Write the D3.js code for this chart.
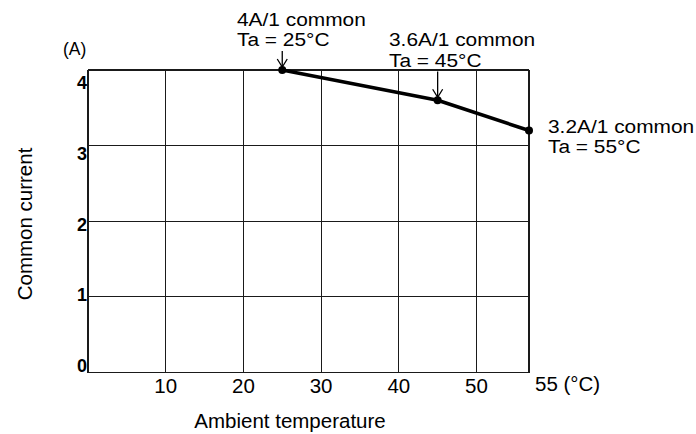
<!DOCTYPE html>
<html>
<head>
<meta charset="utf-8">
<script src="https://cdn.jsdelivr.net/npm/d3@7"></script>
<style>
  html, body { margin: 0; padding: 0; background: #fff; }
  svg { display: block; font-family: "Liberation Sans", Arial, sans-serif; }
</style>
</head>
<body>
<svg id="chart" width="696" height="434"></svg>
<script>
// ---- data ----
const temps = [25, 45, 55];            // ambient temperature (°C)
const currents = [4.0, 3.6, 3.2];      // common current (A)
const annotLine1 = ["4A/1 common", "3.6A/1 common", "3.2A/1 common"];
const annotLine2 = ["Ta = 25°C", "Ta = 45°C", "Ta = 55°C"];
const xTicks = [10, 20, 30, 40, 50];
const xTickLabels = ["10", "20", "30", "40", "50"];
const xEndLabel = "55 (°C)";
const yTicks = [0, 1, 2, 3, 4];
const yTickLabels = ["0", "1", "2", "3", "4"];
const xTitle = "Ambient temperature";
const yTitle = "Common current";
const yUnit = "(A)";

// ---- scales ----
const svg = d3.select("#chart");
const x = d3.scaleLinear().domain([0, 50, 55]).range([88, 476.5, 529]);
const y = d3.scaleLinear().domain([0, 4]).range([372.5, 70]);
const yLab = d3.scaleLinear().domain([0, 4]).range([372, 89]);

const gridColor = "#1a1a1a";

// grid: horizontal lines
svg.append("g").selectAll("line").data(yTicks).join("line")
  .attr("x1", x(0)).attr("x2", x(55))
  .attr("y1", d => y(d)).attr("y2", d => y(d))
  .attr("stroke", gridColor).attr("stroke-width", 1.2)
  .attr("shape-rendering", "crispEdges");

// grid: vertical lines
svg.append("g").selectAll("line").data([0, ...xTicks, 55]).join("line")
  .attr("x1", d => x(d)).attr("x2", d => x(d))
  .attr("y1", y(4)).attr("y2", y(0))
  .attr("stroke", gridColor).attr("stroke-width", 1.2)
  .attr("shape-rendering", "crispEdges");

// y tick labels
svg.append("g").selectAll("text").data(yTicks).join("text")
  .attr("x", 87).attr("y", d => yLab(d))
  .attr("text-anchor", "end")
  .attr("font-size", 18).attr("font-weight", "bold")
  .text((d, i) => yTickLabels[i]);

// x tick labels
svg.append("g").selectAll("text").data(xTicks).join("text")
  .attr("x", d => x(d)).attr("y", 393)
  .attr("text-anchor", "middle")
  .attr("font-size", 20.5)
  .text((d, i) => xTickLabels[i]);

svg.append("text").attr("x", x(55) + 6).attr("y", 391)
  .attr("font-size", 20.5).text(xEndLabel);

// axis titles
svg.append("text").attr("x", 290).attr("y", 428)
  .attr("text-anchor", "middle").attr("font-size", 20.5).text(xTitle);

svg.append("text")
  .attr("transform", "translate(32,224) rotate(-90)")
  .attr("text-anchor", "middle").attr("font-size", 20.5).text(yTitle);

svg.append("text").attr("x", 63).attr("y", 55)
  .attr("font-size", 17.5).text(yUnit);

// data line
const pts = temps.map((t, i) => [t, currents[i]]);
svg.append("path")
  .datum(pts)
  .attr("fill", "none")
  .attr("stroke", "#000")
  .attr("stroke-width", 3.5)
  .attr("stroke-linejoin", "round")
  .attr("d", d3.line().x(d => x(d[0])).y(d => y(d[1])));

svg.append("g").selectAll("circle").data(pts).join("circle")
  .attr("cx", d => x(d[0])).attr("cy", d => y(d[1]))
  .attr("r", 4).attr("fill", "#000");

// annotations (slightly wide lettering, like the original)
const annotX = [237, 389, 548];
const annotY = [25.5, 46, 132.5];
const lineGap = 20.5;
const stretch = 1.16;
temps.forEach((t, i) => {
  [annotLine1[i], annotLine2[i]].forEach((s, k) => {
    svg.append("g")
      .attr("transform", `translate(${annotX[i]},${annotY[i] + k * lineGap}) scale(${stretch},1)`)
      .append("text").attr("x", 0).attr("y", 0)
      .attr("font-size", 18).text(s);
  });
});

// arrows for the first two annotations
[0, 1].forEach(i => {
  const ax = x(temps[i]);
  const tip = y(currents[i]) - 3;
  const top = annotY[i] + lineGap + 5;
  svg.append("line").attr("x1", ax).attr("x2", ax)
    .attr("y1", top).attr("y2", tip)
    .attr("stroke", "#000").attr("stroke-width", 1.3);
  svg.append("path")
    .attr("d", `M${ax - 5},${tip - 8} L${ax},${tip} L${ax + 5},${tip - 8}`)
    .attr("fill", "none").attr("stroke", "#000").attr("stroke-width", 1.3);
});
</script>
</body>
</html>
